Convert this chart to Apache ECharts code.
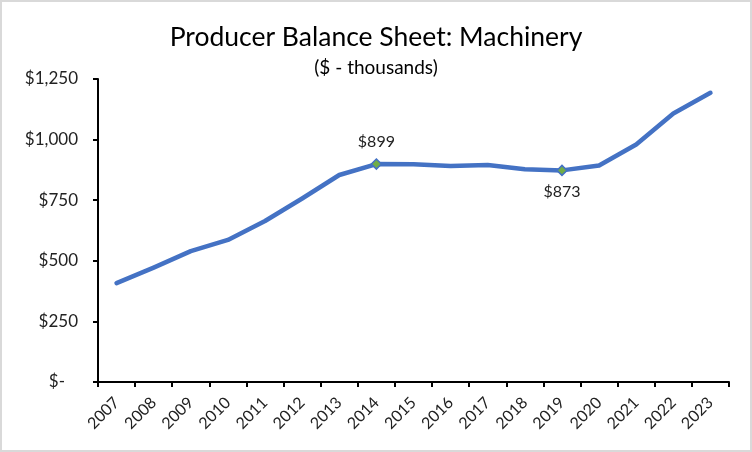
<!DOCTYPE html>
<html>
<head>
<meta charset="utf-8">
<script src="https://cdn.jsdelivr.net/npm/echarts@6/dist/echarts.min.js"></script>
<style>
html,body{margin:0;padding:0;background:#fff;}
#c{width:752px;height:452px;box-sizing:border-box;border:2px solid #d9d9d9;}
</style>
</head>
<body>
<div id="c"></div>
<script>
const years = ['2007','2008','2009','2010','2011','2012','2013','2014','2015','2016','2017','2018','2019','2020','2021','2022','2023'];
const machinery = [408,472,540,586,664,757,854,899,898,891,895,878,873,893,980,1108,1193];
const yTicks = [0,250,500,750,1000,1250];
const labeledYears = ['2014','2019'];
const titleText = 'Producer Balance Sheet: Machinery';
const subtitleText = '($ - thousands)';

const FONT = 'Lato';
function fmt(v){ return v === 0 ? '$-   ' : '$' + v.toLocaleString('en-US'); }

const seriesData = machinery.map((v,i)=>{
  const yr = years[i];
  if (labeledYears.indexOf(yr) >= 0) {
    const above = yr === '2014';
    return {
      value: v,
      symbol: 'diamond',
      symbolSize: 10,
      itemStyle: {color:'#70AD47', borderColor:'#4472C4', borderWidth:1.5},
      label: {show:true, position: above ? 'top' : 'bottom', distance: 8,
        formatter: '$' + v, fontFamily: FONT, fontSize: 16, color:'#222'}
    };
  }
  return {value: v, symbol:'none'};
});

const chart = echarts.init(document.getElementById('c'), null, {renderer:'canvas'});
chart.setOption({
  animation:false,
  title:[
    {text:titleText, left:'center', top:17, textStyle:{fontFamily:FONT, fontSize:26.5, fontWeight:'normal', color:'#000'}},
    {text:subtitleText, left:'center', top:51, textStyle:{fontFamily:FONT, fontSize:19, fontWeight:'normal', color:'#000'}}
  ],
  grid:{left:96, right:21, top:77, bottom:68, containLabel:false},
  xAxis:{
    type:'category', data:years, boundaryGap:true,
    axisLine:{lineStyle:{color:'#000', width:2}},
    axisTick:{show:true, interval:0, length:5, lineStyle:{color:'#000', width:2}},
    axisLabel:{interval:0, rotate:45, margin:18, fontFamily:FONT, fontSize:16, color:'#222'}
  },
  yAxis:{
    type:'value', min:0, max:1250, interval:250,
    splitLine:{show:false},
    axisLine:{show:true, lineStyle:{color:'#000', width:2}},
    axisTick:{show:true, length:5, lineStyle:{color:'#000', width:2}},
    axisLabel:{margin:20, fontFamily:FONT, fontSize:17, color:'#222', formatter: v => yTicks.indexOf(v)>=0 ? fmt(v) : ''}
  },
  series:[{
    type:'line', data:seriesData, smooth:false,
    lineStyle:{color:'#4472C4', width:4.5, cap:'round', join:'round'},
    itemStyle:{color:'#4472C4'},
    showSymbol:true
  }]
});
</script>
</body>
</html>
